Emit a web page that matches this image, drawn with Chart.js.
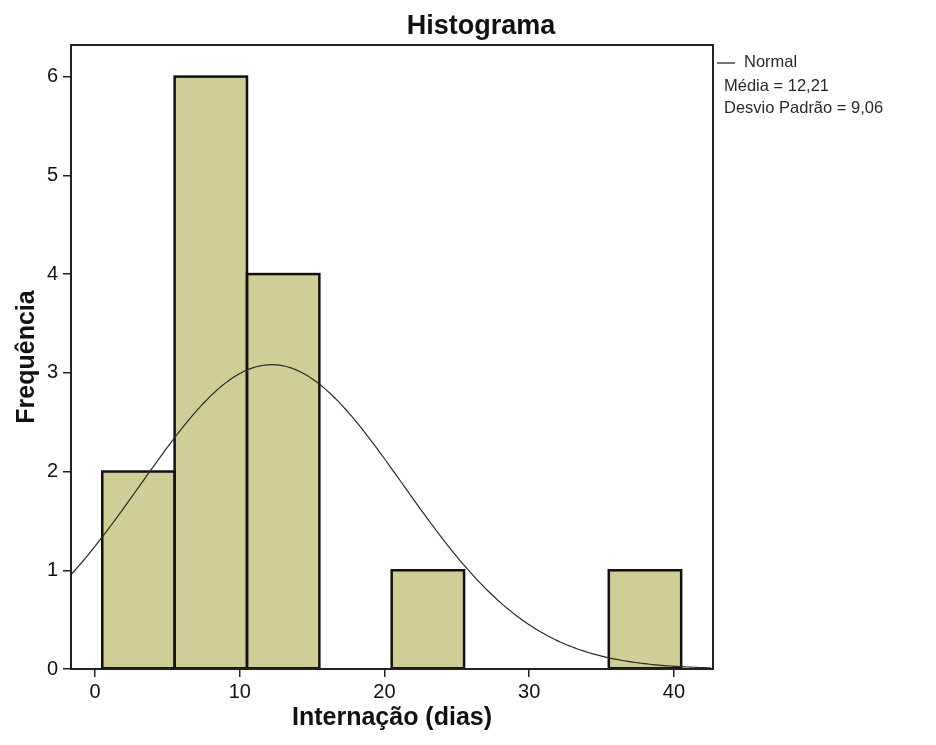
<!DOCTYPE html>
<html>
<head>
<meta charset="utf-8">
<title>Histograma</title>
<script src="https://cdn.jsdelivr.net/npm/chart.js@4.4.1/dist/chart.umd.min.js"></script>
<style>
  html, body { margin: 0; padding: 0; background: #ffffff; }
  #wrap { width: 936px; height: 745px; }
</style>
</head>
<body>
<div id="wrap"><canvas id="hist" width="936" height="745"></canvas></div>
<script>
// Histogram bins (centres, width 5 days) and their frequencies
const BIN_CENTERS = [3, 8, 13, 18, 23, 28, 33, 38];
const FREQUENCIES = [2, 6, 4, 0, 1, 0, 0, 1];
const BIN_WIDTH = 5;

// Fitted normal distribution
const MEAN = 12.21;
const SD = 9.06;

// Axis ticks and ranges
const X_TICKS = [0, 10, 20, 30, 40];
const Y_TICKS = [0, 1, 2, 3, 4, 5, 6];
const X_MIN = -1.66;
const X_MAX = 42.7;
const Y_MAX = 6.32;

// Texts
const TITLE = 'Histograma';
const X_TITLE = 'Internação (dias)';
const Y_TITLE = 'Frequência';
const LEGEND_SERIES = 'Normal';
const fmt = v => v.toFixed(2).replace('.', ',');
const LEGEND_STATS = ['Média = ' + fmt(MEAN), 'Desvio Padrão = ' + fmt(SD)];

const FONT = "'Liberation Sans', Arial, Helvetica, sans-serif";
const BAR_FILL = 'rgb(209, 205, 150)';
const INK = '#111111';

// Normal curve scaled to the histogram: N * binWidth * pdf(x)
const N_OBS = FREQUENCIES.reduce((a, b) => a + b, 0);
function normalCount(x) {
  const z = (x - MEAN) / SD;
  return N_OBS * BIN_WIDTH * Math.exp(-0.5 * z * z) / (SD * Math.sqrt(2 * Math.PI));
}
const curvePoints = [];
for (let x = X_MIN; x <= X_MAX + 1e-9; x += 0.2) {
  curvePoints.push({ x: x, y: normalCount(x) });
}

const barPoints = BIN_CENTERS.map((c, i) => ({ x: c, y: FREQUENCIES[i] }));

// Page background, outlined bars, plot frame, title and the stats legend
const decorations = {
  id: 'decorations',
  beforeDraw(chart) {
    const ctx = chart.ctx;
    ctx.save();
    ctx.fillStyle = '#ffffff';
    ctx.fillRect(0, 0, chart.width, chart.height);
    ctx.restore();
  },
  afterDatasetDraw(chart, args) {
    if (chart.data.datasets[args.index].type !== 'bar') return;
    const ctx = chart.ctx;
    ctx.save();
    ctx.strokeStyle = '#111111';
    ctx.lineWidth = 2.5;
    args.meta.data.forEach(el => {
      const p = el.getProps(['x', 'y', 'base', 'width'], true);
      if (Math.abs(p.base - p.y) < 0.5) return;
      ctx.strokeRect(p.x - p.width / 2, p.y, p.width, p.base - p.y);
    });
    ctx.restore();
  },
  afterDraw(chart) {
    const ctx = chart.ctx;
    const a = chart.chartArea;
    ctx.save();
    ctx.strokeStyle = '#222222';
    ctx.lineWidth = 2;
    ctx.strokeRect(a.left, a.top, a.right - a.left, a.bottom - a.top);

    ctx.fillStyle = INK;
    ctx.textBaseline = 'middle';
    ctx.textAlign = 'center';
    ctx.font = 'bold 27px ' + FONT;
    ctx.fillText(TITLE, 481, 27);

    ctx.textAlign = 'left';
    ctx.font = '16.5px ' + FONT;
    ctx.fillStyle = '#2a2a2a';
    ctx.strokeStyle = '#2a2a2a';
    ctx.lineWidth = 1.3;
    ctx.beginPath();
    ctx.moveTo(a.right + 4, 63);
    ctx.lineTo(a.right + 22, 63);
    ctx.stroke();
    ctx.fillText(LEGEND_SERIES, a.right + 31, 62);
    LEGEND_STATS.forEach((t, i) => ctx.fillText(t, a.right + 11, 86 + i * 22));
    ctx.restore();
  }
};

new Chart(document.getElementById('hist'), {
  type: 'bar',
  data: {
    datasets: [
      {
        type: 'line',
        label: LEGEND_SERIES,
        data: curvePoints,
        borderColor: '#2a2a2a',
        borderWidth: 1.2,
        pointRadius: 0,
        tension: 0,
        fill: false,
        order: 0
      },
      {
        type: 'bar',
        label: 'Frequência',
        data: barPoints,
        backgroundColor: BAR_FILL,
        borderWidth: 0,
        barPercentage: 1,
        categoryPercentage: 1,
        order: 1
      }
    ]
  },
  options: {
    responsive: false,
    animation: false,
    devicePixelRatio: 1,
    layout: { padding: { top: 45, right: 223, left: 0, bottom: 0 } },
    plugins: {
      legend: { display: false },
      title: { display: false },
      tooltip: { enabled: false }
    },
    scales: {
      x: {
        type: 'linear',
        min: X_MIN,
        max: X_MAX,
        offset: false,
        afterBuildTicks: s => { s.ticks = X_TICKS.map(v => ({ value: v })); },
        afterFit: s => { s.height = 76; },
        grid: { display: true, offset: false, drawOnChartArea: false, drawTicks: true, tickLength: 8, color: '#222222', lineWidth: 1.5 },
        border: { display: true, color: '#222222', width: 2 },
        ticks: { color: INK, font: { family: FONT, size: 20 }, padding: 3, autoSkip: false, maxRotation: 0 },
        title: { display: true, text: X_TITLE, color: INK, font: { family: FONT, size: 25, weight: 'bold' }, padding: { top: 0, bottom: 12 } }
      },
      y: {
        type: 'linear',
        min: 0,
        max: Y_MAX,
        afterBuildTicks: s => { s.ticks = Y_TICKS.map(v => ({ value: v })); },
        afterFit: s => { s.width = 71; },
        grid: { display: true, drawOnChartArea: false, drawTicks: true, tickLength: 8, color: '#222222', lineWidth: 1.5 },
        border: { display: true, color: '#222222', width: 2 },
        ticks: { color: INK, font: { family: FONT, size: 20 }, padding: 5 },
        title: { display: true, text: Y_TITLE, color: INK, font: { family: FONT, size: 25, weight: 'bold' }, padding: { top: 12, bottom: 0 } }
      }
    }
  },
  plugins: [decorations]
});
</script>
</body>
</html>
